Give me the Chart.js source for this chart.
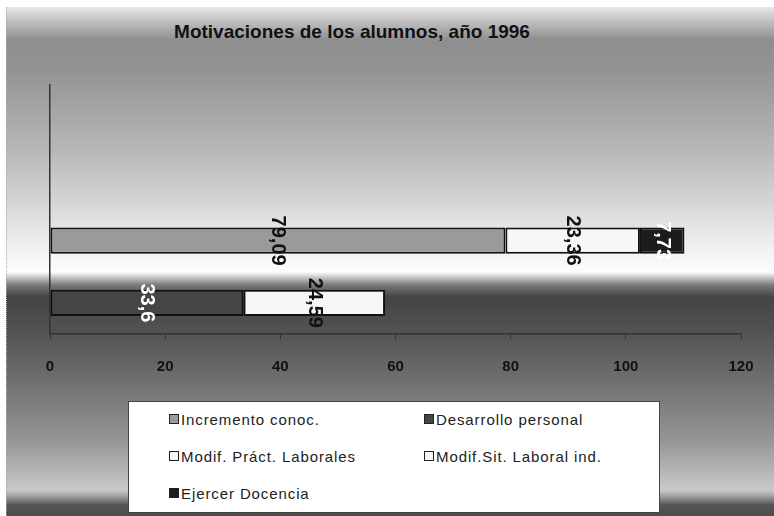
<!DOCTYPE html>
<html>
<head>
<meta charset="utf-8">
<script src="https://cdn.jsdelivr.net/npm/chart.js@4/dist/chart.umd.min.js"></script>
<style>
  html, body { margin: 0; padding: 0; background: #fff; }
  #wrap { position: relative; width: 774px; height: 516px; overflow: hidden; font-family: Arial, "Liberation Sans", sans-serif; }
  #bg {
    position: absolute; left: 6px; top: 7px; right: 0; bottom: 0;
    border-left: 1px dotted #aaa;
    background: linear-gradient(to bottom,
      #e8e8e8 0px, #c4c4c4 13px, #8e8e8e 33px, #939393 63px, #b8b8b8 143px,
      #d4d4d4 193px, #efefef 238px, #fdfdfd 265px, #7a7a7a 278px, #444444 290px,
      #525252 323px, #6f6f6f 373px, #959595 433px, #c9c9c9 483px, #9a9a9a 490px,
      #555555 498px, #4d4d4d 509px);
  }
  #title { position: absolute; left: 0; width: 704px; top: 21px; text-align: center; font-weight: bold; font-size: 19px; color: #111; }
  #chartBox { position: absolute; left: 0; top: 0; width: 774px; height: 516px; }
  #legend { position: absolute; left: 128px; top: 401px; width: 530px; height: 110px; background: #fff; border: 1px solid #444; }
  .item { position: absolute; font-size: 15px; letter-spacing: 0.9px; color: #222; white-space: nowrap; line-height: 18px; }
  .mark { display: inline-block; width: 8px; height: 8px; border: 1.5px solid #222; margin-right: 2px; vertical-align: 1px; }
</style>
</head>
<body>
<div id="wrap">
  <div id="bg"></div>
  <div id="title">Motivaciones de los alumnos, año 1996</div>
  <div id="chartBox"><canvas id="myChart"></canvas></div>
  <div id="legend"></div>
</div>
<script>
const categories = ['', '', '', ''];
const incremento = [null, null, 79.09, null];
const desarrollo = [null, null, null, 33.6];
const modifPract = [null, null, 23.36, null];
const modifSit = [null, null, null, 24.59];
const ejercer = [null, null, 7.73, null];
const seriesNames = ['Incremento conoc.', 'Desarrollo personal', 'Modif. Práct. Laborales', 'Modif.Sit. Laboral ind.', 'Ejercer Docencia'];
const seriesColors = ['#9a9a9a', '#454545', '#f7f7f7', '#f7f7f7', '#1c1c1c'];
const labelColors = ['#111', '#fff', '#111', '#111', '#fff'];
const xMin = 0, xMax = 120, xStep = 20;

// value labels written sideways on each segment
const barLabels = {
    id: 'barLabels',
    afterDatasetsDraw(chart) {
        const ctx = chart.ctx;
        ctx.save();
        ctx.font = 'bold 20px Arial, "Liberation Sans", sans-serif';
        ctx.textAlign = 'center';
        ctx.textBaseline = 'middle';
        chart.data.datasets.forEach((ds, i) => {
            chart.getDatasetMeta(i).data.forEach((bar, j) => {
                const v = ds.data[j];
                if (v == null) return;
                const cx = (bar.x + bar.base) / 2;
                ctx.save();
                ctx.translate(cx, bar.y);
                ctx.rotate(Math.PI / 2);
                ctx.fillStyle = labelColors[i];
                ctx.fillText(String(v).replace('.', ','), 0, 0);
                ctx.restore();
            });
        });
        ctx.restore();
    }
};

const allData = [incremento, desarrollo, modifPract, modifSit, ejercer];

const ctx = document.getElementById('myChart').getContext('2d');
const myChart = new Chart(ctx, {
    type: 'bar',
    data: {
        labels: categories,
        datasets: seriesNames.map((name, i) => ({
            label: name,
            data: allData[i],
            backgroundColor: seriesColors[i],
            borderColor: '#111',
            borderWidth: 2,
            borderSkipped: false,
            categoryPercentage: 1,
            barPercentage: 0.42
        }))
    },
    options: {
        indexAxis: 'y',
        responsive: true,
        maintainAspectRatio: false,
        animation: false,
        layout: { padding: { top: 85, left: 50, right: 33, bottom: 121 } },
        scales: {
            x: {
                stacked: true,
                min: xMin,
                max: xMax,
                grid: { drawOnChartArea: false, tickLength: 5, color: '#333' },
                border: { color: '#333', width: 1.5 },
                ticks: {
                    stepSize: xStep,
                    padding: 19,
                    color: '#111',
                    font: { family: 'Arial, "Liberation Sans", sans-serif', size: 15, weight: 'bold' }
                }
            },
            y: {
                stacked: true,
                grid: { display: false },
                border: { color: '#333', width: 1.5 },
                ticks: { display: false },
                afterFit(scale) { scale.width = 0; }
            }
        },
        plugins: {
            legend: { display: false },
            tooltip: { enabled: false }
        }
    },
    plugins: [barLabels]
});

// legend box, two columns
const legendEl = document.getElementById('legend');
myChart.data.datasets.forEach((ds, i) => {
    const item = document.createElement('div');
    item.className = 'item';
    item.style.left = (i % 2 === 0 ? 40 : 295) + 'px';
    item.style.top = (9 + Math.floor(i / 2) * 37) + 'px';
    const mark = document.createElement('span');
    mark.className = 'mark';
    mark.style.background = ds.backgroundColor;
    item.appendChild(mark);
    item.appendChild(document.createTextNode(ds.label));
    legendEl.appendChild(item);
});
</script>
</body>
</html>
